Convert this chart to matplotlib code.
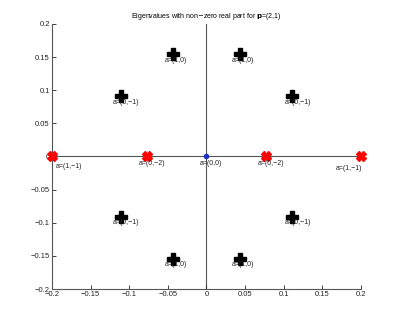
import matplotlib
matplotlib.use("Agg")
import matplotlib.pyplot as plt
import numpy as np

plt.rcParams["font.family"] = ["Liberation Sans", "DejaVu Sans"]

# eigenvalues with non-zero real part
cross_re = [-0.043, 0.043, -0.111, 0.111, -0.111, 0.111, -0.043, 0.043]
cross_im = [0.154, 0.154, 0.091, 0.091, -0.091, -0.091, -0.154, -0.154]
cross_lbl = ["a=(1,0)", "a=(1,0)", "a=(0,\u22121)", "a=(0,\u22121)",
             "a=(0,\u22121)", "a=(0,\u22121)", "a=(1,0)", "a=(1,0)"]

real_re = [-0.2, -0.077, 0.077, 0.2]
real_im = [0.0, 0.0, 0.0, 0.0]
real_lbl = ["a=(1,\u22121)", "a=(0,\u22122)", "a=(0,\u22122)", "a=(1,\u22121)"]

zero_re = [0.0]
zero_im = [0.0]
zero_lbl = ["a=(0,0)"]

ticks = [-0.2, -0.15, -0.1, -0.05, 0, 0.05, 0.1, 0.15, 0.2]
tick_lbl = ["\u22120.2", "\u22120.15", "\u22120.1", "\u22120.05", "0",
            "0.05", "0.1", "0.15", "0.2"]

fig = plt.figure(figsize=(3.99, 3.27), dpi=100)
ax = fig.add_axes([0.130, 0.116, 0.775, 0.811])

ax.axhline(0, color="#555555", lw=0.8, zorder=1)
ax.axvline(0, color="#555555", lw=0.8, zorder=1)

ax.plot(cross_re, cross_im, ls="none", marker="P", ms=9, color="black",
        mec="black", zorder=3)
ax.plot(real_re, real_im, ls="none", marker="X", ms=6.5, color="red",
        mec="red", zorder=3, clip_on=False)
ax.plot(zero_re, zero_im, ls="none", marker="o", ms=3, color="#2030c0",
        zorder=3)

lbl_kw = dict(textcoords="offset pixels", fontsize=5, ha="left", va="center",
              color="#222222")
for x, y, s in zip(cross_re, cross_im, cross_lbl):
    ax.annotate(s, (x, y), xytext=(-8, -6), **lbl_kw)
for i, (x, y, s) in enumerate(zip(real_re, real_im, real_lbl)):
    off = (-8, -7)
    if i == 0:
        off = (4, -10)
    elif i == len(real_re) - 1:
        off = (-25, -12)
    ax.annotate(s, (x, y), xytext=off, **lbl_kw)
for x, y, s in zip(zero_re, zero_im, zero_lbl):
    ax.annotate(s, (x, y), xytext=(-7, -7), **lbl_kw)

ax.set_xlim(-0.2, 0.2)
ax.set_ylim(-0.2, 0.2)
ax.set_xticks(ticks)
ax.set_xticklabels(tick_lbl)
ax.set_yticks(ticks)
ax.set_yticklabels(tick_lbl)
ax.tick_params(direction="in", length=3, width=0.6, labelsize=5.5,
               colors="#222222", pad=1.5)
for side in ["top", "right"]:
    ax.spines[side].set_visible(False)
for side in ["left", "bottom"]:
    ax.spines[side].set_color("#555555")
    ax.spines[side].set_linewidth(0.8)

ax.set_title(r"Eigenvalues with non$-$zero real part for $\mathbf{p}$=(2,1)",
             fontsize=5, pad=4)

fig.savefig("out.png", dpi=100)
